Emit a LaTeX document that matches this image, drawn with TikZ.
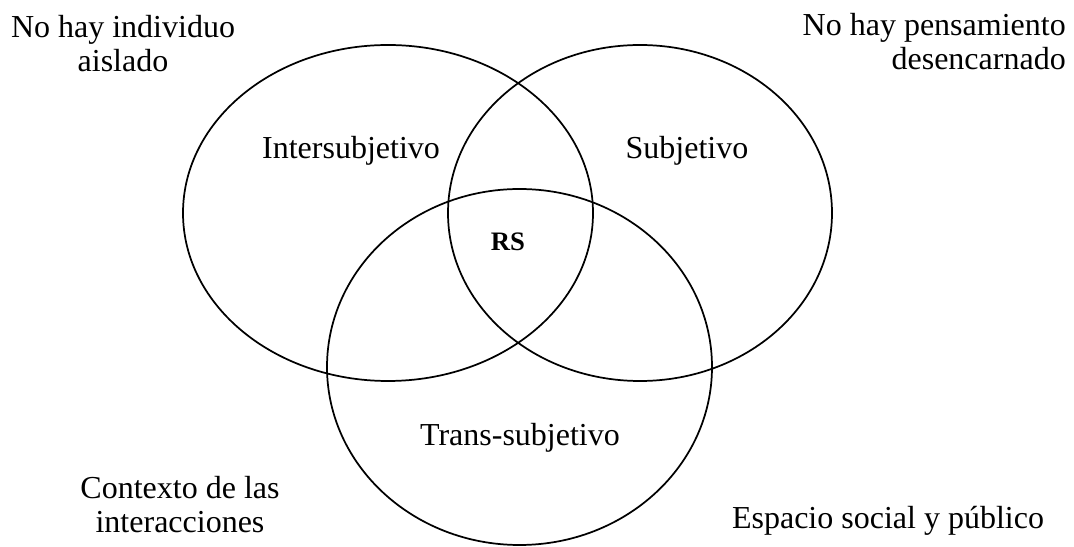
\documentclass[tikz,border=0pt]{standalone}
\usepackage{fontspec}
\setmainfont{Liberation Serif}
\usetikzlibrary{positioning}
\tikzset{zone/.style = {line width=1.3pt},
         tag/.style = {font=\fontsize{24}{25.5}\selectfont, inner sep=0pt},
         core/.style = {font=\fontsize{20}{22}\selectfont\bfseries, inner sep=0pt}}

\begin{document}
\begin{tikzpicture}[x=0.75pt, y=0.75pt]
    \useasboundingbox (0, 0) rectangle (1074, 546);
    \draw [zone] (388, 333) ellipse [x radius=205, y radius=168];
    \draw [zone] (640, 333) ellipse [x radius=192, y radius=168];
    \draw [zone] (519.5, 179) ellipse [x radius=192.5, y radius=178];
    \node (inter) at (351, 387) [tag, anchor=base] {Intersubjetivo};
    \node (subj) at (687, 387) [tag, anchor=base] {Subjetivo};
    \node (rs) at (508, 295) [core, anchor=base] {RS};
    \node (trans) at (520, 100) [tag, anchor=base] {Trans-subjetivo};
    \node (aislado) at (123, 474) [tag, anchor=base, align=center] {No hay individuo\\aislado};
    \node (pensam) at (1066, 476) [tag, anchor=base east, align=right] {No hay pensamiento\\desencarnado};
    \node (context) at (180, 13) [tag, anchor=base, align=center] {Contexto de las\\interacciones};
    \node (espacio) at (888, 17) [tag, anchor=base] {Espacio social y público};
\end{tikzpicture}
\end{document}
